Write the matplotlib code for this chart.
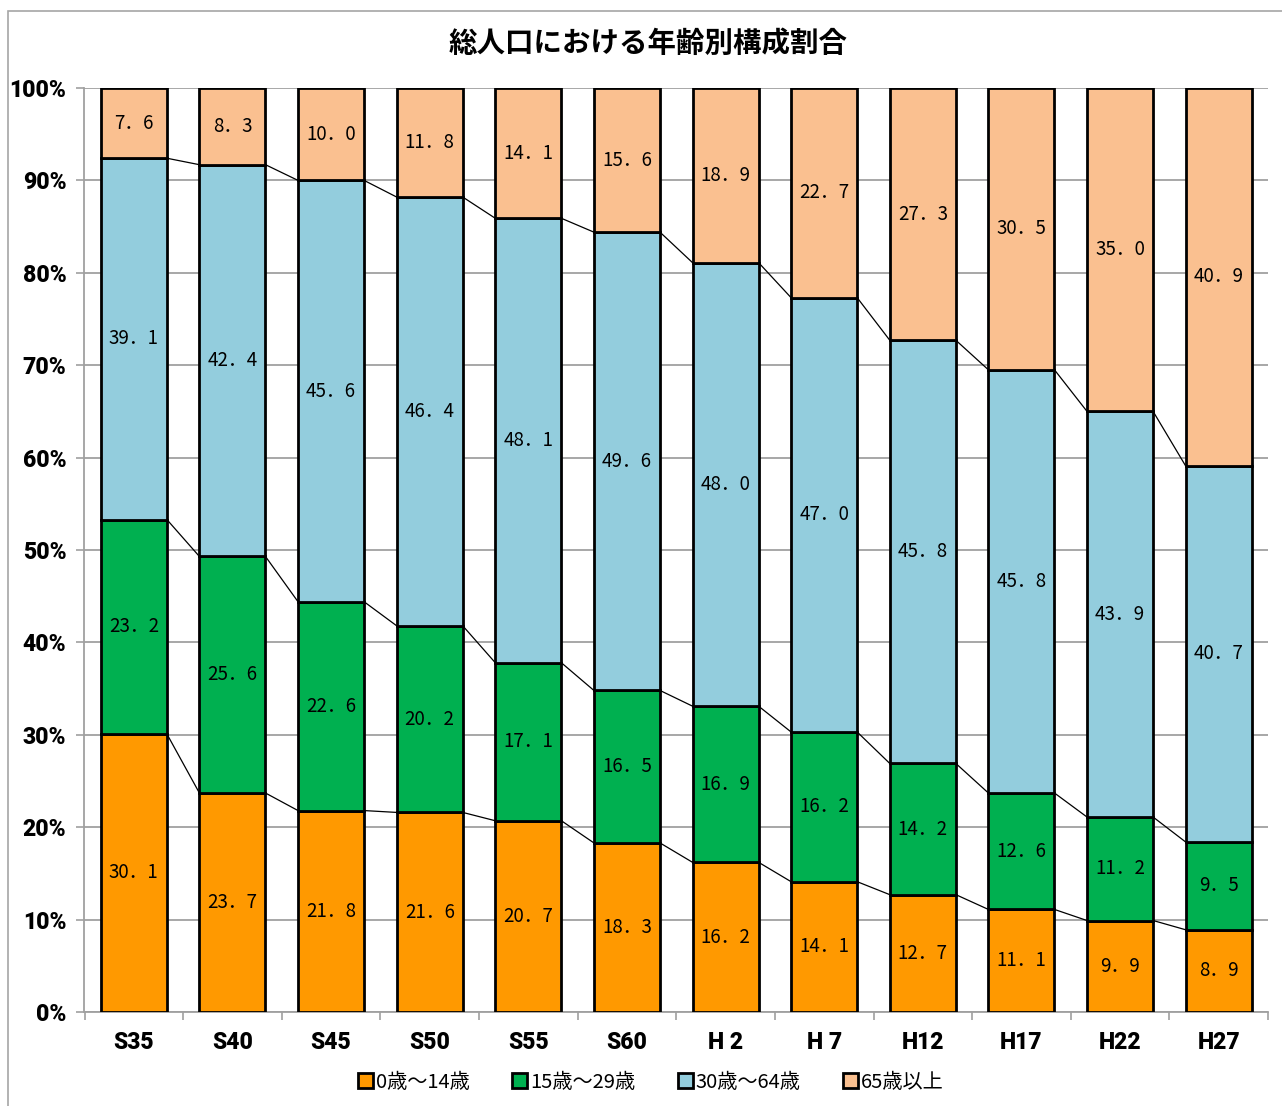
import numpy as np
import matplotlib
matplotlib.use("Agg")
import matplotlib.pyplot as plt
from matplotlib.patches import Patch, Rectangle

# ---- data ----
categories = ["S35", "S40", "S45", "S50", "S55", "S60", "H 2", "H 7", "H12", "H17", "H22", "H27"]
series_names = ["0歳～14歳", "15歳～29歳", "30歳～64歳", "65歳以上"]
age_0_14 = [30.1, 23.7, 21.8, 21.6, 20.7, 18.3, 16.2, 14.1, 12.7, 11.1, 9.9, 8.9]
age_15_29 = [23.2, 25.6, 22.6, 20.2, 17.1, 16.5, 16.9, 16.2, 14.2, 12.6, 11.2, 9.5]
age_30_64 = [39.1, 42.4, 45.6, 46.4, 48.1, 49.6, 48.0, 47.0, 45.8, 45.8, 43.9, 40.7]
age_65_up = [7.6, 8.3, 10.0, 11.8, 14.1, 15.6, 18.9, 22.7, 27.3, 30.5, 35.0, 40.9]
y_ticks = [0, 10, 20, 30, 40, 50, 60, 70, 80, 90, 100]
title = "総人口における年齢別構成割合"

colors = ["#FF9900", "#00B050", "#93CDDD", "#FAC090"]

tick_font = dict(family=["Roboto", "DejaVu Sans"], weight=900)
tick_size = 16.5
cjk = ["Noto Sans CJK JP", "DejaVu Sans"]
plt.rcParams["font.family"] = cjk

W, H = 1282, 1106
fig = plt.figure(figsize=(W / 100, H / 100), dpi=100)
fig.patch.set_facecolor("white")

# outer frame (top and left visible)
fig.add_artist(Rectangle((8 / W, -0.05), 1.2, 1 - 10.5 / H + 0.05, transform=fig.transFigure,
                         fill=False, edgecolor="#A6A6A6", linewidth=1.2))

ax = fig.add_axes([84.5 / W, 1 - 1012 / H, (1268 - 84.5) / W, (1012 - 88) / H])

data = np.array([age_0_14, age_15_29, age_30_64, age_65_up])
totals = data.sum(axis=0)
pct = data / totals * 100
x = np.arange(len(categories))
bw = 0.67

bottom = np.zeros(len(categories))
cum_tops = []
for k in range(4):
    ax.bar(x, pct[k], bw, bottom=bottom, color=colors[k], edgecolor="black",
           linewidth=2.0, zorder=3, label=series_names[k])
    for i in range(len(categories)):
        lbl = f"{data[k][i]:.1f}".replace(".", "．")
        ax.text(x[i], bottom[i] + pct[k][i] / 2, lbl, ha="center", va="center",
                fontsize=13.5, family=cjk, color="black", zorder=5)
    bottom = bottom + pct[k]
    cum_tops.append(bottom.copy())

# series lines
for k in range(3):
    tops = cum_tops[k]
    for i in range(len(categories) - 1):
        ax.plot([x[i] + bw / 2, x[i + 1] - bw / 2], [tops[i], tops[i + 1]],
                color="black", linewidth=0.9, zorder=2)

ax.set_xlim(-0.5, len(categories) - 0.5)
ax.set_ylim(0, 100)
ax.set_yticks(y_ticks)
ax.set_yticklabels([f"{t}%" for t in y_ticks], fontsize=tick_size, **tick_font)
ax.set_xticks(x)
ax.set_xticklabels(categories, fontsize=tick_size, **tick_font)
ax.set_xticks(np.arange(-0.5, len(categories), 1), minor=True)
ax.tick_params(axis="x", which="major", length=0, pad=14)
ax.tick_params(axis="x", which="minor", length=6, color="#A0A0A0", width=1.2)
ax.tick_params(axis="y", length=6, color="#A0A0A0", width=1.2, pad=7)

ax.yaxis.grid(True, color="#A0A0A0", linewidth=1.3, zorder=0)
ax.set_axisbelow(True)
for s in ["top", "right"]:
    ax.spines[s].set_visible(False)
for s in ["left", "bottom"]:
    ax.spines[s].set_color("#A0A0A0")
    ax.spines[s].set_linewidth(1.3)

fig.text(648 / W, 1 - 44 / H, title, ha="center", va="center",
         fontsize=20.5, fontweight="bold", family=cjk)

handles = [Patch(facecolor=c, edgecolor="black", linewidth=2.0) for c in colors]
fig.legend(handles, series_names, loc="center", bbox_to_anchor=(651 / W, 1 - 1082 / H),
           ncol=4, frameon=False, handlelength=0.75, handleheight=0.75,
           handletextpad=0.15, columnspacing=2.1, prop=dict(family=cjk, size=14.5))

fig.savefig("out.png", dpi=100, facecolor="white")
